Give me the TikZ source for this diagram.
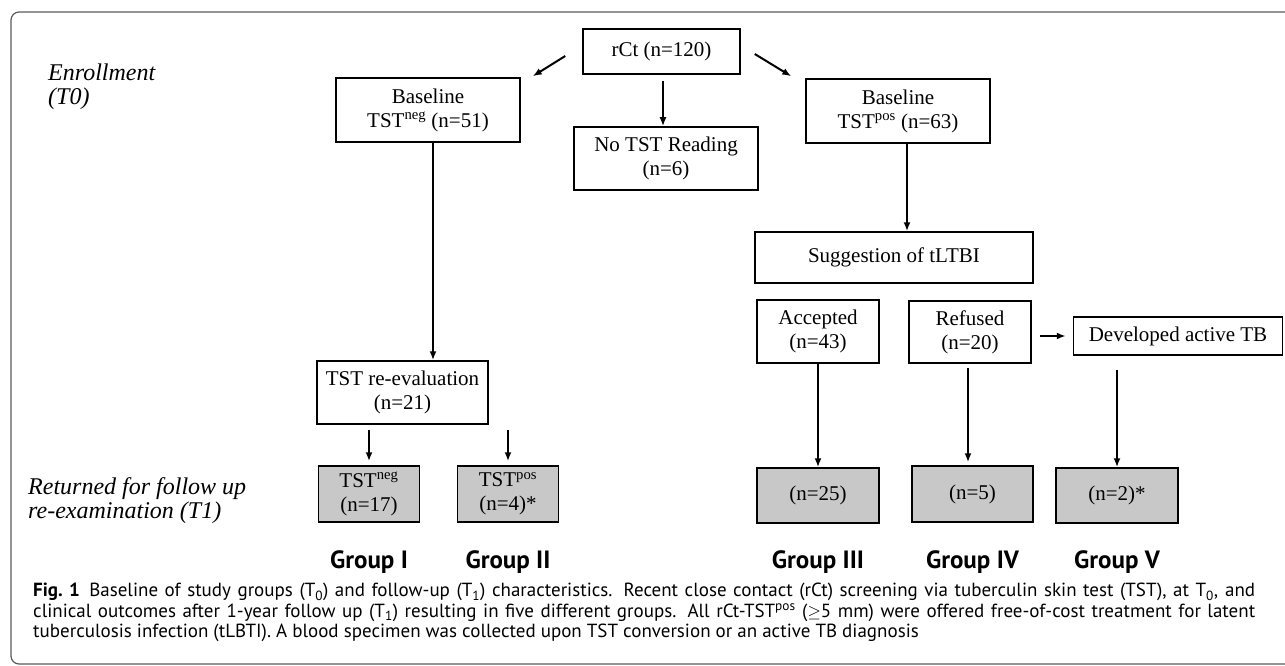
\documentclass[tikz,border=0pt]{standalone}
\usepackage{fontspec}
\setmainfont{Liberation Serif}
\newfontfamily\capfont{PT Sans}
\usetikzlibrary{arrows.meta, positioning, calc}
\definecolor{boxgray}{RGB}{200, 200, 200}
\definecolor{framegray}{RGB}{90, 90, 90}

\begin{document}
\begin{tikzpicture}[x=1pt, y=-1pt,
    node distance=20pt,
    box/.style={draw, line width=1.5pt, align=center, inner sep=2pt, font=\fontsize{21}{24}\selectfont},
    grpbox/.style={box, fill=boxgray},
    arr/.style={-{Latex[length=9pt, width=7pt]}, line width=2pt},
    phase/.style={anchor=north west, align=left, inner sep=0pt, font=\fontsize{24}{24}\selectfont\itshape},
    grp/.style={font=\capfont\bfseries\fontsize{25}{28}\selectfont},
    figcap/.style={anchor=north west, text width=1222pt, align=justify, inner sep=0pt, font=\capfont\fontsize{19}{20.5}\selectfont}
  ]
  \useasboundingbox (0,0) rectangle (1285,666);
  \draw[framegray, line width=1.2pt, rounded corners=8pt] (1300,12) -- (11,12) -- (11,664) -- (1300,664);

  % T0
  \node[box, minimum width=157pt, minimum height=45pt] (rCt) at (661.5,51.5) {rCt (n=120)};
  \node[box, minimum width=184pt, minimum height=64pt] (neg) at (428,110) {Baseline\\TST\textsuperscript{neg} (n=51)};
  \node[box, minimum width=184pt, minimum height=63pt] (none) at (666,158.5) {No TST Reading\\(n=6)};
  \node[box, minimum width=184pt, minimum height=64pt] (pos) at (898,111) {Baseline\\TST\textsuperscript{pos} (n=63)};
  \node[box, minimum width=171pt, minimum height=63pt] (reev) at (402.5,392.5) {TST re-evaluation\\(n=21)};
  \node[box, minimum width=278pt, minimum height=51pt] (sug) at (894,257.5) {Suggestion of tLTBI};
  \node[box, minimum width=122pt, minimum height=63pt] (acc) at (818,331.5) {Accepted\\(n=43)};
  \node[box, minimum width=122pt, minimum height=62pt] (ref) at (970,332) {Refused\\(n=20)};
  \node[box, minimum width=209pt, minimum height=38pt, right=41pt of ref, yshift=-4pt] (dev) {Developed active TB};

  % T1
  \node[grpbox, minimum width=101pt, minimum height=56pt] (g1) at (369,494) {TST\textsuperscript{neg}\\(n=17)};
  \node[grpbox, minimum width=101pt, minimum height=56pt] (g2) at (508,494) {TST\textsuperscript{pos}\\(n=4)*};
  \node[grpbox, minimum width=122pt, minimum height=55pt] (g3) at (818,495.5) {(n=25)};
  \node[grpbox, minimum width=121pt, minimum height=56pt] (g4) at (972.5,494) {(n=5)};
  \node[grpbox, minimum width=122pt, minimum height=55pt] (g5) at (1117,495.5) {(n=2)*};

  \draw[arr] ($(rCt.west)+(-17,4.5)$) -- ($(neg.north east)+(12,-1)$);
  \draw[arr] ($(rCt.east)+(14,2.5)$) -- ($(pos.north west)+(-14,-2)$);
  \draw[arr, shorten <=6pt] ([xshift=1.5pt]rCt.south) -- ([xshift=1.5pt]rCt.south |- none.north);
  \draw[arr] ([xshift=5pt]neg.south) -- ([xshift=5pt]neg.south |- reev.north);
  \draw[arr, shorten <=5pt, shorten >=4pt] (reev.south -| g1.north) -- (g1.north);
  \draw[arr, shorten <=5pt, shorten >=4pt] (reev.south -| g2.north) -- (g2.north);
  \draw[arr] ([xshift=9pt]pos.south) -- ([xshift=9pt]pos.south |- sug.north);
  \draw[arr] (acc.south) -- (acc.south |- g3.north);
  \draw[arr, shorten <=4pt, shorten >=3pt] ([xshift=-2pt]ref.south) -- ([xshift=-2pt]ref.south |- g4.north);
  \draw[arr, shorten <=8pt, shorten >=7pt] (ref.east |- dev.west) -- (dev.west);
  \draw[arr, shorten <=14pt] (dev.south -| g5.north) -- (g5.north);

  % phase labels and groups
  \node[phase] (t0) at (48,64) {Enrollment\\(T0)};
  \node[phase] (t1) at (28,477) {Returned for follow up\\re-examination (T1)};
  \node[grp, below=24pt of g1] (grp1) {Group I};
  \node[grp, below=24pt of g2] (grp2) {Group II};
  \node[grp, below=23pt of g3] (grp3) {Group III};
  \node[grp, below=24pt of g4] (grp4) {Group IV};
  \node[grp, below=23pt of g5] (grp5) {Group V};

  \node[figcap] (caption) at (33,583) {\textbf{Fig.~1}\enspace Baseline of study groups (T\textsubscript{0}) and follow-up (T\textsubscript{1}) characteristics. Recent close contact (rCt) screening via tuberculin skin test (TST), at T\textsubscript{0}, and\linebreak clinical outcomes after 1-year follow up (T\textsubscript{1}) resulting in five different groups. All rCt-TST\textsuperscript{pos} ($\geq$5 mm) were offered free-of-cost treatment for latent\linebreak tuberculosis infection (tLBTI). A blood specimen was collected upon TST conversion or an active TB diagnosis};
\end{tikzpicture}
\end{document}
